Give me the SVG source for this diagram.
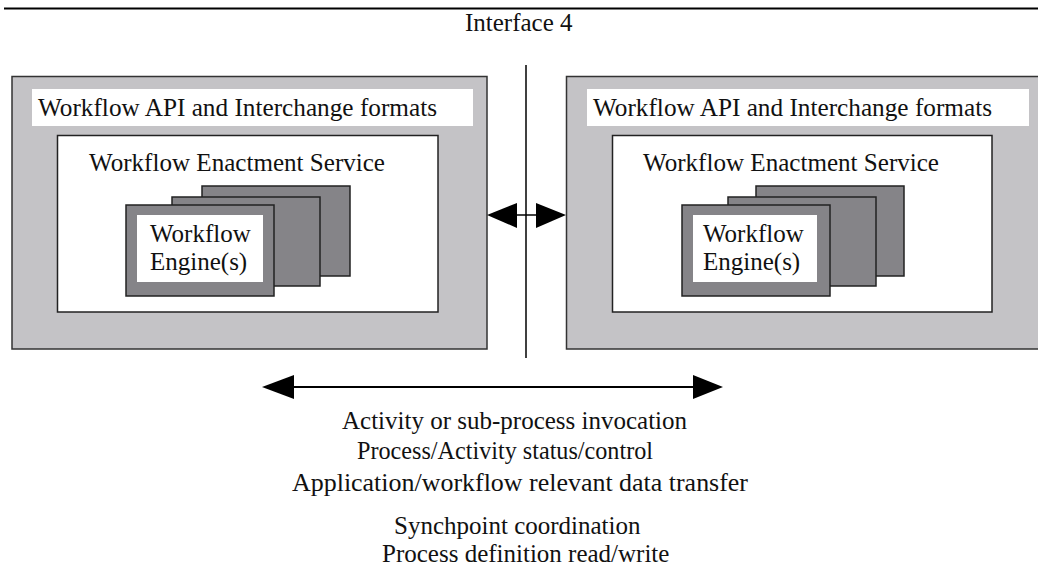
<svg xmlns="http://www.w3.org/2000/svg" width="1038" height="572" viewBox="0 0 1038 572">
<style>
text{font-family:"Liberation Serif","Times New Roman",serif;font-size:25px;fill:#111}
.outer{fill:#c4c3c6;stroke:#333;stroke-width:1.5}
.band{fill:#fff;stroke:none}
.inner{fill:#fff;stroke:#222;stroke-width:1.5}
.card{fill:#858488;stroke:#222;stroke-width:1.5}
.cardin{fill:#fff;stroke:none}
.ln{stroke:#000;fill:none}
.head{fill:#000}
</style>
<rect width="1038" height="572" fill="#fff"/>
<line x1="4" y1="8.5" x2="1038" y2="8.5" stroke="#000" stroke-width="2.2"/>
<text id="interface4" x="465" y="31">Interface 4</text>

<g id="left-system">
<rect class="outer" x="12" y="76.5" width="475" height="272.5"/>
<rect class="band" x="32" y="89" width="441" height="37"/>
<text x="38" y="116" textLength="399" lengthAdjust="spacingAndGlyphs">Workflow API and Interchange formats</text>
<rect class="inner" x="57.5" y="135.5" width="380.5" height="176.5"/>
<text x="89" y="171" textLength="296" lengthAdjust="spacingAndGlyphs">Workflow Enactment Service</text>
<rect class="card" x="202" y="186" width="148" height="90"/>
<rect class="card" x="172" y="197" width="148" height="89"/>
<rect class="card" x="126" y="205" width="148" height="91"/>
<rect class="cardin" x="137" y="215" width="126" height="67"/>
<text x="150" y="242">Workflow</text>
<text x="150" y="270">Engine(s)</text>
</g>

<g id="right-system">
<rect class="outer" x="566.5" y="76.5" width="480" height="272.5"/>
<rect class="band" x="587" y="89" width="442" height="37"/>
<text x="593" y="116" textLength="399" lengthAdjust="spacingAndGlyphs">Workflow API and Interchange formats</text>
<rect class="inner" x="612.5" y="135.5" width="379.5" height="176.5"/>
<text x="643" y="171" textLength="296" lengthAdjust="spacingAndGlyphs">Workflow Enactment Service</text>
<rect class="card" x="756" y="186" width="148" height="90"/>
<rect class="card" x="728" y="197" width="148" height="89"/>
<rect class="card" x="682" y="205" width="148" height="91"/>
<rect class="cardin" x="693" y="215" width="124" height="67"/>
<text x="703" y="242">Workflow</text>
<text x="703" y="270">Engine(s)</text>
</g>

<g id="connectors">
<line class="ln" x1="526" y1="65" x2="526" y2="358" stroke-width="1.5"/>
<path class="head" d="M487,215 L517,203 L517,228 Z"/>
<path class="head" d="M566,215 L536,203 L536,228 Z"/>
<line class="ln" x1="517" y1="215" x2="536" y2="215" stroke-width="1.5"/>
<path class="head" d="M262,387 L294,375 L294,399 Z"/>
<path class="head" d="M723,387 L693,375 L693,399 Z"/>
<line class="ln" x1="294" y1="387" x2="693" y2="387" stroke-width="2"/>
</g>

<g id="labels">
<text x="342" y="429">Activity or sub-process invocation</text>
<text x="357" y="459" textLength="296" lengthAdjust="spacingAndGlyphs">Process/Activity status/control</text>
<text x="292" y="491" textLength="456" lengthAdjust="spacingAndGlyphs">Application/workflow relevant data transfer</text>
<text x="394" y="534">Synchpoint coordination</text>
<text x="382" y="562">Process definition read/write</text>
</g>
</svg>
